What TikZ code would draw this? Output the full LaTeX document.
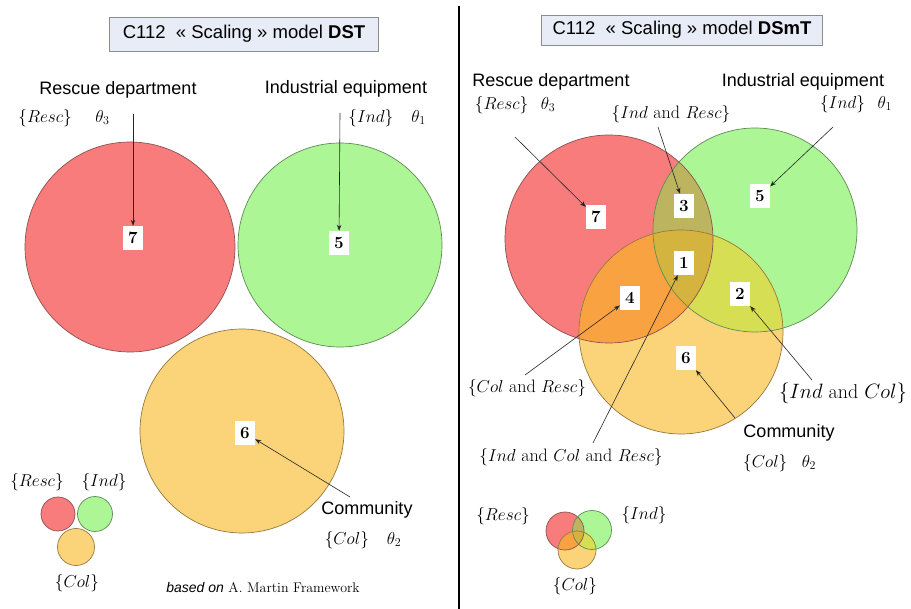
\documentclass[tikz,border=0pt]{standalone}
\usepackage{amsmath}
\usepackage{fontspec}
\setsansfont{Liberation Sans}
\usetikzlibrary{arrows.meta}
\definecolor{cR}{RGB}{248,124,124}
\definecolor{cG}{RGB}{172,246,150}
\definecolor{cY}{RGB}{251,212,122}
\definecolor{cRG}{RGB}{188,180,94}
\definecolor{cRY}{RGB}{249,162,66}
\definecolor{cGY}{RGB}{214,222,84}
\definecolor{cRGY}{RGB}{212,180,62}
\definecolor{bR}{RGB}{140,80,80}
\definecolor{bG}{RGB}{95,140,85}
\definecolor{bY}{RGB}{150,120,60}
\definecolor{titlefill}{RGB}{232,236,246}
\definecolor{titleborder}{RGB}{140,140,140}
\newcommand\myvenn[6]{%
 \fill[cR] #1 circle (#2);
 \fill[cG] #3 circle (#4);
 \fill[cY] #5 circle (#6);
 \begin{scope}\clip #1 circle (#2); \fill[cRG] #3 circle (#4); \end{scope}
 \begin{scope}\clip #1 circle (#2); \fill[cRY] #5 circle (#6); \end{scope}
 \begin{scope}\clip #3 circle (#4); \fill[cGY] #5 circle (#6); \end{scope}
 \begin{scope}\clip #1 circle (#2); \clip #3 circle (#4); \fill[cRGY] #5 circle (#6); \end{scope}
 \draw[bR,line width=0.7pt] #1 circle (#2);
 \draw[bG,line width=0.7pt] #3 circle (#4);
 \draw[bY,line width=0.7pt] #5 circle (#6);
}
\tikzset{
 lbl/.style={font=\sffamily\fontsize{18}{21}\selectfont, inner sep=0pt},
 mlbl/.style={font=\fontsize{18}{21}\selectfont, inner sep=0pt},
 numbox/.style={fill=white, inner sep=0pt, minimum width=20pt, minimum height=24pt, font=\bfseries\fontsize{17}{19}\selectfont},
 arr/.style={draw=black!85, line width=0.6pt, -{Stealth[length=6pt,width=4.5pt]}},
 titlebox/.style={draw=titleborder, fill=titlefill, line width=0.9pt, inner sep=0pt, font=\sffamily\fontsize{18.5}{22}\selectfont},
}
\begin{document}
\begin{tikzpicture}[x=1pt,y=-1pt]
\useasboundingbox[fill=white] (0,0) rectangle (911,609);

% divider
\coordinate (dtop) at (459,6);
\coordinate (dbot) at (459,609);
\draw[line width=2.5pt] (dtop) -- (dbot);

% ---------------- LEFT: DST ----------------
\node[titlebox, minimum width=269pt, minimum height=34pt] (tl) at (244,34) {C112~~\guillemotleft\ Scaling \guillemotright\ model \textbf{DST}};

\fill[cR] (130,247) circle (105pt);
\draw[bR,line width=0.7pt] (130,247) circle (105pt);
\fill[cG] (340,245) circle (102pt);
\draw[bG,line width=0.7pt] (340,245) circle (102pt);
\fill[cY] (242,431) circle (102pt);
\draw[bY,line width=0.7pt] (242,431) circle (102pt);

\node[lbl] (lresc) at (118,90) {Rescue department};
\node[mlbl] (lrescm) at (64,118) {$\{Resc\}\hspace{1.3em}\theta_3$};
\node[lbl] (lind) at (346,89) {Industrial equipment};
\node[mlbl] (lindm) at (387,118) {$\{Ind\}\quad\theta_1$};
\node[lbl] (lcom) at (367,510) {Community};
\node[mlbl] (lcolm) at (363,540) {$\{Col\}\quad\theta_2$};

\node[numbox] (l7) at (133,238) {7};
\node[numbox] (l5) at (339,243) {5};
\node[numbox] (l6) at (245,433) {6};

\coordinate (la7) at (133,114);
\coordinate (la5) at (340,113);
\coordinate (la6) at (350,497);
\draw[arr] (la7) -- (l7);
\draw[arr] (la5) -- (l5);
\draw[arr] (la6) -- (l6);

% left legend
\fill[cR] (58,514) circle (17pt);
\draw[bR,line width=0.7pt] (58,514) circle (17pt);
\fill[cG] (95,514) circle (17.5pt);
\draw[bG,line width=0.7pt] (95,514) circle (17.5pt);
\fill[cY] (76,547) circle (18.5pt);
\draw[bY,line width=0.7pt] (76,547) circle (18.5pt);
\node[mlbl] (llr) at (37,482) {$\{Resc\}$};
\node[mlbl] (lli) at (104,482) {$\{Ind\}$};
\node[mlbl] (llc) at (77,583) {$\{Col\}$};

\node[inner sep=0pt, font=\fontsize{14}{16}\selectfont] (based) at (263,587) {{\sffamily\itshape based on} A. Martin Framework};

% ---------------- RIGHT: DSmT ----------------
\node[titlebox, minimum width=281pt, minimum height=30pt] (tr) at (682,30) {C112~~\guillemotleft\ Scaling \guillemotright\ model \textbf{DSmT}};

\myvenn{(609,239)}{104pt}{(755,230)}{102pt}{(681,332)}{102pt}

\node[lbl] (rresc) at (551,82) {Rescue department};
\node[mlbl] (rrescm) at (515,105) {$\{Resc\}\hspace{0.7em}\theta_3$};
\node[mlbl] (rir) at (671,114) {$\{Ind\ \text{and}\ Resc\}$};
\node[lbl] (rind) at (803,82) {Industrial equipment};
\node[mlbl] (rindm) at (856,104) {$\{Ind\}\hspace{0.7em}\theta_1$};
\node[mlbl] (rcr) at (527,388) {$\{Col\ \text{and}\ Resc\}$};
\node[mlbl, font=\fontsize{20}{23}\selectfont] (ric) at (843,393) {$\{Ind\ \text{and}\ Col\}$};
\node[mlbl] (ricr) at (571,457) {$\{Ind\ \text{and}\ Col\ \text{and}\ Resc\}$};
\node[lbl] (rcom) at (789,433) {Community};
\node[mlbl, anchor=west] (rcolm) at (743,463) {$\{Col\}\hspace{0.8em}\theta_2$};

\node[numbox] (r7) at (596,217) {7};
\node[numbox] (r3) at (684,206) {3};
\node[numbox] (r5) at (760,196) {5};
\node[numbox] (r1) at (684,263) {1};
\node[numbox] (r4) at (630,298) {4};
\node[numbox] (r2) at (740,294) {2};
\node[numbox] (r6) at (686,358) {6};

\coordinate (ra7) at (515,137);
\coordinate (ra3) at (658,127);
\coordinate (ra5) at (833,127);
\coordinate (ra4) at (525,375);
\coordinate (ra1) at (593,443);
\coordinate (ra2) at (812,380);
\coordinate (ra6) at (735,418);
\draw[arr] (ra7) -- (r7);
\draw[arr] (ra3) -- (r3);
\draw[arr] (ra5) -- (r5);
\draw[arr] (ra4) -- (r4);
\draw[arr] (ra1) -- (r1);
\draw[arr] (ra2) -- (r2);
\draw[arr] (ra6) -- (r6);

% right legend
\myvenn{(565,531)}{19pt}{(592,530)}{19.5pt}{(577,550)}{19pt}
\node[mlbl] (rlr) at (503,516) {$\{Resc\}$};
\node[mlbl] (rli) at (644,515) {$\{Ind\}$};
\node[mlbl] (rlc) at (575,586) {$\{Col\}$};
\end{tikzpicture}
\end{document}
